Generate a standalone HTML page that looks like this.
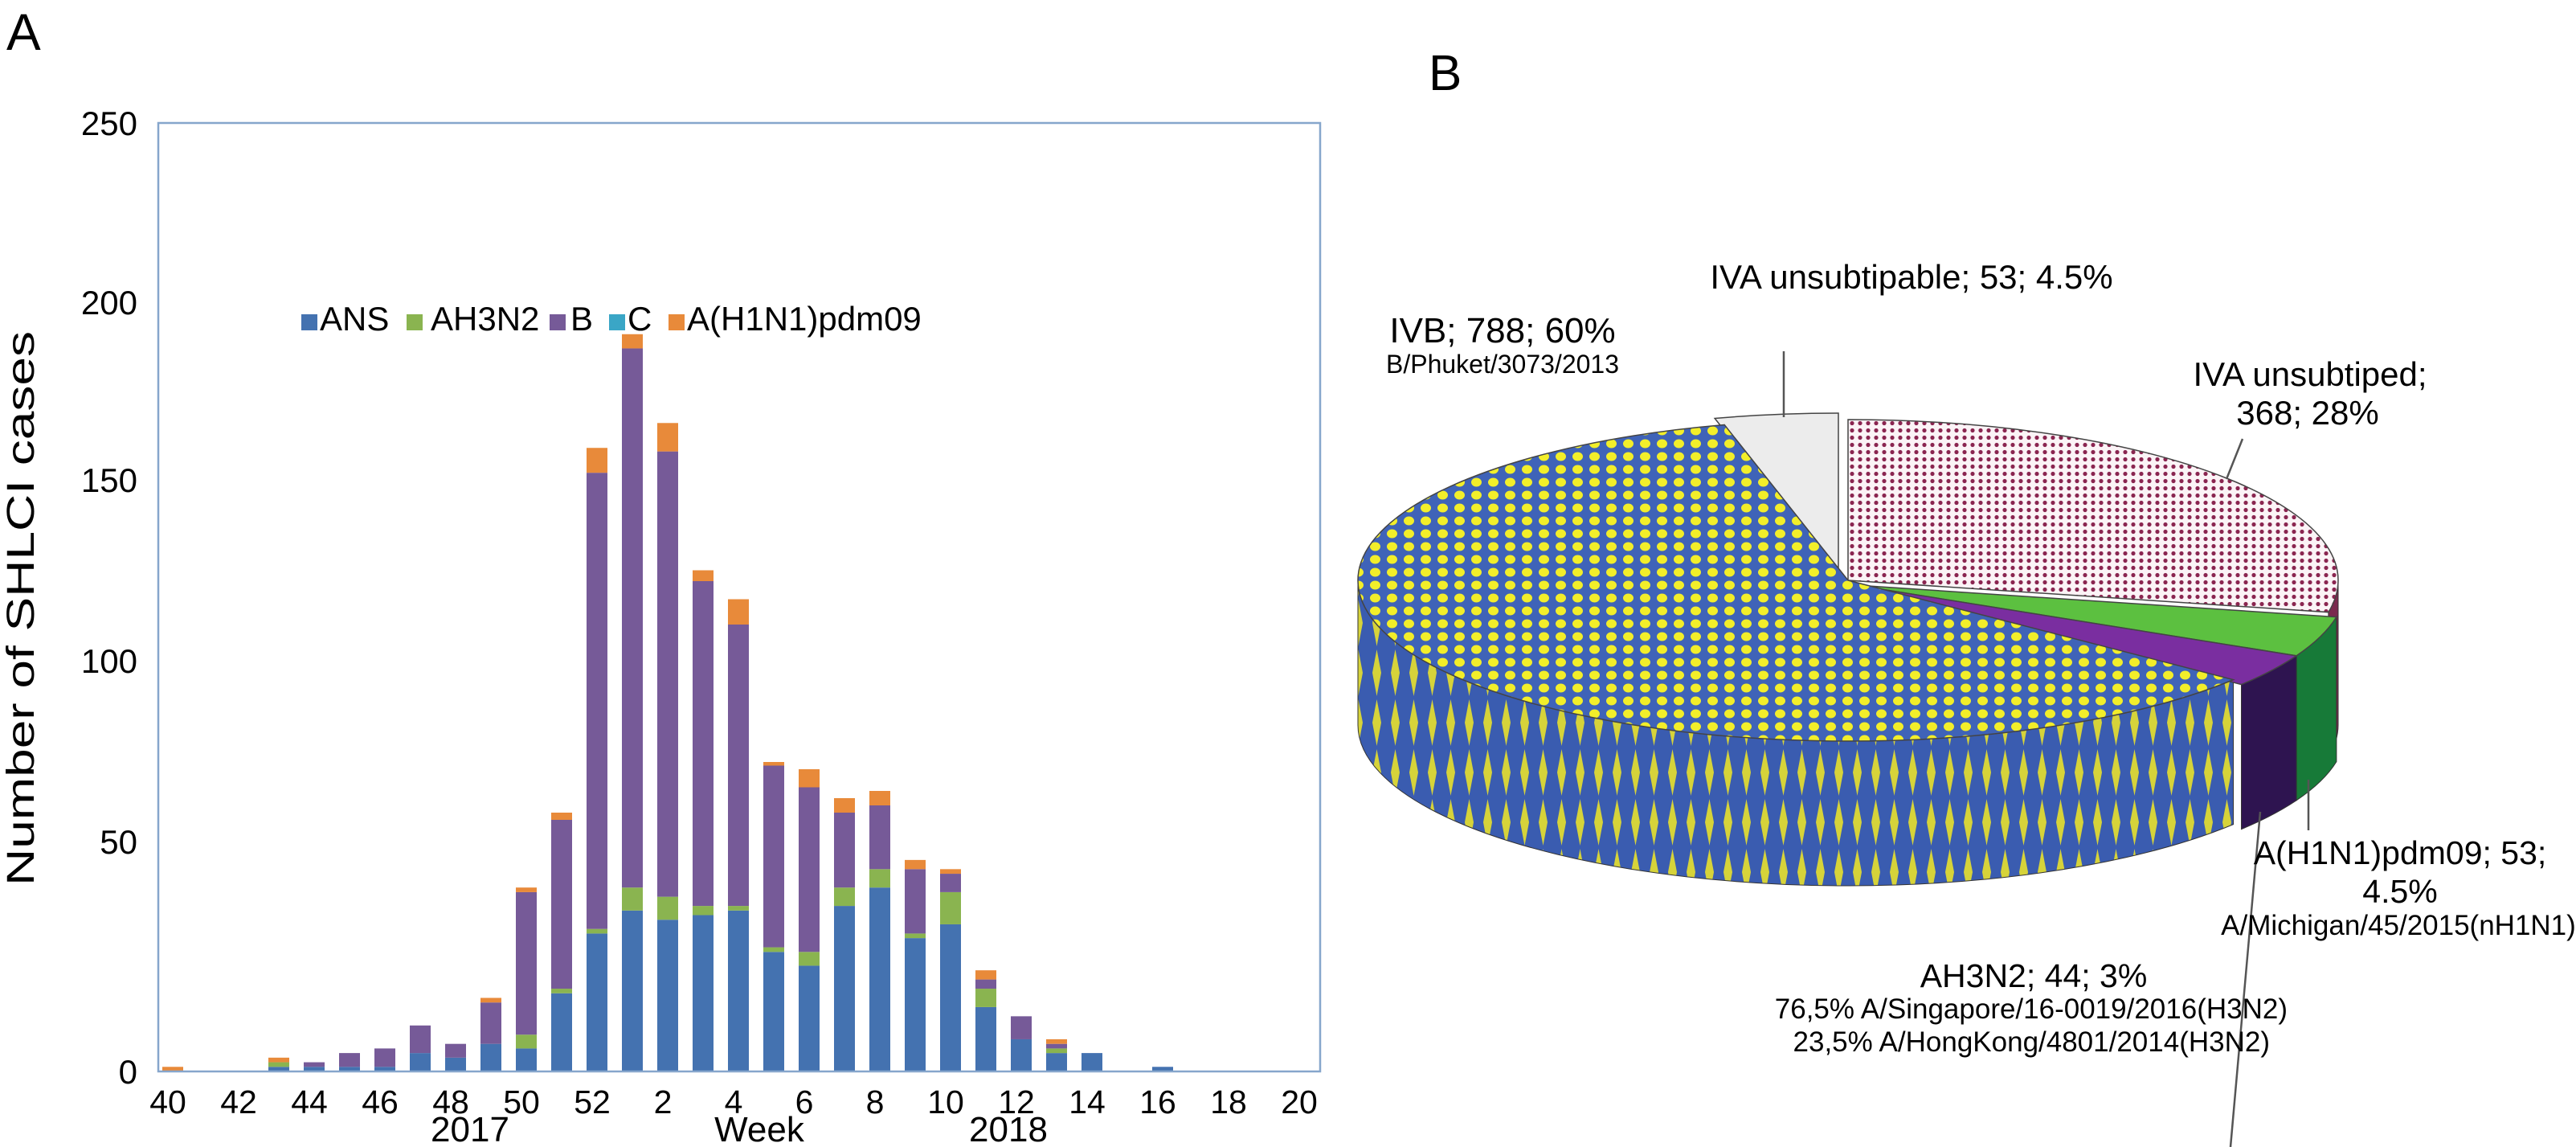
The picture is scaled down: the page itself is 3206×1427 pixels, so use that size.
<!DOCTYPE html>
<html><head><meta charset="utf-8"><style>
html,body{margin:0;padding:0;background:#fff;}
svg{display:block;font-family:"Liberation Sans",Arial,sans-serif;}
</style></head><body>
<svg id="fig" width="3206" height="1427" viewBox="0 0 3206 1427" xmlns="http://www.w3.org/2000/svg">
<defs>
<pattern id="pBlueTop" width="21" height="16" patternUnits="userSpaceOnUse">
<rect width="21" height="16" fill="#3f63b8"/>
<ellipse cx="10.5" cy="8" rx="6.5" ry="5.5" fill="#f2ee2a"/>
</pattern>
<pattern id="pBlueWall" width="23" height="62" patternUnits="userSpaceOnUse">
<rect width="23" height="62" fill="#3a5cb0"/>
<polygon points="11.5,2 17,31 11.5,60 6,31" fill="#d6d33a"/>
</pattern>
<pattern id="pPink" width="10" height="9" patternUnits="userSpaceOnUse">
<rect width="10" height="9" fill="#fbf3f6"/>
<circle cx="5" cy="4.5" r="2.6" fill="#8a2550"/>
</pattern>
</defs>
<g id="chartA"></g>
<g id="chartB"></g>
</svg>
<script>
const NS="http://www.w3.org/2000/svg";
// ---- Panel A data ----
const weekLabels=[40,41,42,43,44,45,46,47,48,49,50,51,52,1,2,3,4,5,6,7,8,9,10,11,12,13,14,15,16,17,18,19,20];
const seriesNames=["ANS","AH3N2","B","C","A(H1N1)pdm09"];
const ansValues=  [0,0,0,1,1,1,1,4,3,6,5,17,30,35,33,34,35,26,23,36,40,29,32,14,7,4,4,0,1,0,0,0,0];
const ah3n2Values=[0,0,0,1,0,0,0,0,0,0,3,1,1,5,5,2,1,1,3,4,4,1,7,4,0,1,0,0,0,0,0,0,0];
const bValues=    [0,0,0,0,1,3,4,6,3,9,31,38,121,147,120,86,74,44,39,18,16,14,4,2,5,1,0,0,0,0,0,0,0];
const cValues=    [0,0,0,0,0,0,0,0,0,0,0,0,0,0,0,0,0,0,0,0,0,0,0,0,0,0,0,0,0,0,0,0,0];
const h1n1Values= [1,0,0,1,0,0,0,0,0,1,1,2,7,4,8,3,7,1,5,4,4,2,1,2,0,1,0,0,0,0,0,0,0];
const yTicks=[0,50,100,150,200,250];
const xTickLabels=[40,42,44,46,48,50,52,2,4,6,8,10,12,14,16,18,20];
const seriesColors=["#4472b0","#8ab450","#765a98","#3aa6c6","#e88a3a"];
// ---- Panel B data ----
const pieLabels=["IVA unsubtiped","A(H1N1)pdm09","AH3N2","IVB","IVA unsubtipable"];
const pieValues=[368,53,44,788,53];

function el(tag,attrs,parent,text){const e=document.createElementNS(NS,tag);for(const k in attrs)e.setAttribute(k,attrs[k]);if(text!==undefined)e.textContent=text;parent.appendChild(e);return e;}

// ---------- Panel A ----------
const A=document.getElementById('chartA');
const X0=197,X1=1643,Y0=1333,Y1=153;
// axis geometry: pixel position of each y tick (reference image is non-uniformly scaled)
const tickPix=[1333,1047,822,597,376,153];
const yS=v=>{for(let i=0;i<yTicks.length-1;i++){if(v<=yTicks[i+1]||i===yTicks.length-2){const f=(v-yTicks[i])/(yTicks[i+1]-yTicks[i]);return tickPix[i]+f*(tickPix[i+1]-tickPix[i]);}}};
const xC=i=>209+i*44;
let t=el('text',{x:8,y:62,'font-size':64},A,'A');


yTicks.forEach(v=>{const l=el('text',{x:171,y:yS(v)+15,'font-size':42,'text-anchor':'end'},A,String(v));

});
const series=[ansValues,ah3n2Values,bValues,cValues,h1n1Values];
weekLabels.forEach((w,i)=>{let base=0;series.forEach((arr,s)=>{const v=arr[i];if(v>0){
const r=el('rect',{x:xC(i)+6-13,y:yS(base+v),width:26,height:yS(base)-yS(base+v),fill:seriesColors[s]},A);

}base+=v;});});
const fr=el('rect',{x:X0,y:Y1,width:X1-X0,height:Y0-Y1,fill:'none',stroke:'#86a6cc','stroke-width':2.5},A);


xTickLabels.forEach(w=>{const i=weekLabels.indexOf(w);const l=el('text',{x:xC(i),y:1385,'font-size':41,'text-anchor':'middle'},A,String(w));

});
[["2017",585,'year-2017-label'],["Week",945,'x-axis-title'],["2018",1255,'year-2018-label']].forEach(a=>{const l=el('text',{x:a[1],y:1420,'font-size':44,'text-anchor':'middle'},A,a[0]);

});
const yt=el('text',{x:0,y:0,'font-size':48,'text-anchor':'middle',textLength:690,lengthAdjust:'spacingAndGlyphs',transform:'translate(42,757) rotate(-90)'},A,'Number of SHLCI cases');


// legend
const lg=el('g',{},A);


const legX=[[375,398],[506,536],[684,710],[758,781],[832,855]];
seriesNames.forEach((n,s)=>{const g=el('g',{},lg);


el('rect',{x:legX[s][0],y:391,width:20,height:20,fill:seriesColors[s]},g);
el('text',{x:legX[s][1],y:411,'font-size':42},g,n);});

// ---------- Panel B ----------
const B=document.getElementById('chartB');
t=el('text',{x:1778,y:112,'font-size':62},B,'B');


const cx=2300,cy=722,rx=610,ry=200,D=180;
const total=pieValues.reduce((a,b)=>a+b,0);
const P=(th,ox,oy,dy)=>[cx+ox+rx*Math.sin(th*Math.PI/180),cy+oy+dy-ry*Math.cos(th*Math.PI/180)];
const topFill=['url(#pPink)','#5cc040','#7a2ea0','url(#pBlueTop)','#ececec'];
const wallFill=['#7a2a4e','#177a38','#2e1450','url(#pBlueWall)','#bbbbbb'];
const offs=[[0,0],[10,6],[10,6],[0,0],[-12,-8]];
let angs=[],a=0;pieValues.forEach(v=>{angs.push([a,a+v/total*360]);a+=v/total*360;});
pieValues.forEach((v,k)=>{const [a0,a1]=angs[k];const s=Math.max(a0,90),e=Math.min(a1,270);if(e<=s)return;const [ox,oy]=offs[k];
const p0=P(s,ox,oy,0),p1=P(e,ox,oy,0),q1=P(e,ox,oy,D),q0=P(s,ox,oy,D);
const w=el('path',{d:`M${p0} A${rx} ${ry} 0 0 1 ${p1} L${q1} A${rx} ${ry} 0 0 0 ${q0} Z`,fill:wallFill[k],stroke:'#333','stroke-width':1},B);

});
{const k=4,[ox,oy]=offs[k];const s=angs[k][0];const c=[cx+ox,cy+oy],p=P(s,ox,oy,0);
const f=el('path',{d:`M${c} L${p} L${p[0]+10},${p[1]+8} L${c[0]+10},${c[1]+8} Z`,fill:'#8c8c8c',stroke:'#555','stroke-width':1},B);

}
[4,0,1,2,3].forEach(k=>{const [a0,a1]=angs[k];const [ox,oy]=offs[k];const p0=P(a0,ox,oy,0),p1=P(a1,ox,oy,0);
const large=(a1-a0)>180?1:0;
const s=el('path',{d:`M${cx+ox},${cy+oy} L${p0} A${rx} ${ry} 0 ${large} 1 ${p1} Z`,fill:topFill[k],stroke:'#444','stroke-width':1.5},B);

});
[[2220,437,2220,519],[2791,546,2771,596],[2873,970,2873,1033],[2813,1010,2776,1427]].forEach(l=>{
const ln=el('line',{x1:l[0],y1:l[1],x2:l[2],y2:l[3],stroke:'#555','stroke-width':2.5},B);

});
const labs=[
["IVA unsubtipable; 53; 4.5%",2379,359,42,'middle'],
["IVB; 788; 60%",1870,426,44,'middle'],
["B/Phuket/3073/2013",1870,464,32,'middle'],
["IVA unsubtiped;",2875,480,42,'middle'],
["368; 28%",2872,528,42,'middle'],
["A(H1N1)pdm09; 53;",2987,1075,41,'middle'],
["4.5%",2987,1123,41,'middle'],
["A/Michigan/45/2015(nH1N1)",2985,1163,35,'middle'],
["AH3N2; 44; 3%",2531,1228,41,'middle'],
["76,5% A/Singapore/16-0019/2016(H3N2)",2847,1267,35,'end'],
["23,5% A/HongKong/4801/2014(H3N2)",2825,1308,35,'end']];
labs.forEach(l=>{const tx=el('text',{x:l[1],y:l[2],'font-size':l[3],'text-anchor':l[4]},B,l[0]);

});
</script>
</body></html>
